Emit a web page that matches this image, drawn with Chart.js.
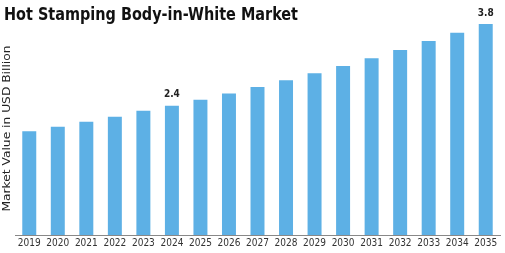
<!DOCTYPE html>
<html>
<head>
<meta charset="utf-8">
<script src="https://cdn.jsdelivr.net/npm/chart.js@4"></script>
<style>
  html, body { margin: 0; padding: 0; background: #fff; }
  #wrap { width: 505px; height: 253px; position: relative; }
</style>
</head>
<body>
<div id="wrap"><canvas id="chart"></canvas></div>
<script>
// values
const years = ["2019","2020","2021","2022","2023","2024","2025","2026","2027","2028","2029","2030","2031","2032","2033","2034","2035"];
const marketValue = [1.88,1.96,2.05,2.14,2.25,2.34,2.45,2.56,2.68,2.80,2.93,3.06,3.20,3.35,3.51,3.66,3.82];
const valueLabels = ["","","","","","2.4","","","","","","","","","","","3.8"];

const chartTitle = "Hot Stamping Body-in-White Market";
const yTitle = "Market Value in USD Billion";

// draws text squeezed/stretched to a given width
function fitText(ctx, text, x, y, width) {
  const w = ctx.measureText(text).width;
  ctx.save();
  ctx.translate(x, y);
  ctx.scale(width / w, 1);
  ctx.fillText(text, 0, 0);
  ctx.restore();
}

// title, y title and value labels
const textPlugin = {
  id: "texts",
  afterDatasetsDraw(chart) {
    const ctx = chart.ctx;
    ctx.save();
    ctx.fillStyle = "#111";
    ctx.font = "bold 18px 'DejaVu Sans Condensed', 'DejaVu Sans'";
    ctx.textAlign = "left";
    ctx.textBaseline = "alphabetic";
    fitText(ctx, chartTitle, 4, 20, 294);

    ctx.font = "11px 'DejaVu Sans'";
    ctx.fillStyle = "#222";
    ctx.translate(7, 128.5);
    ctx.rotate(-Math.PI / 2);
    ctx.textAlign = "center";
    ctx.textBaseline = "middle";
    fitText(ctx, yTitle, 0, 0, 166);
    ctx.restore();

    ctx.save();
    const meta = chart.getDatasetMeta(0);
    ctx.font = "bold 10px 'DejaVu Sans Condensed', 'DejaVu Sans'";
    ctx.fillStyle = "#222";
    ctx.textAlign = "center";
    ctx.textBaseline = "bottom";
    meta.data.forEach((bar, i) => {
      if (valueLabels[i]) ctx.fillText(valueLabels[i], bar.x, bar.y - 6);
    });
    ctx.restore();
  }
};

new Chart(document.getElementById("chart"), {
  type: "bar",
  data: {
    labels: years,
    datasets: [{
      data: marketValue,
      backgroundColor: "#5DB0E5",
      categoryPercentage: 1,
      barPercentage: 0.49
    }]
  },
  options: {
    responsive: true,
    maintainAspectRatio: false,
    animation: false,
    layout: { padding: { left: 15, right: 5, top: 3, bottom: 2 } },
    plugins: { legend: { display: false }, tooltip: { enabled: false } },
    scales: {
      x: {
        grid: { display: false, drawTicks: false, tickLength: 0 },
        border: { display: true, color: "#888" },
        ticks: { color: "#333", font: { size: 10, family: "'DejaVu Sans Condensed', 'DejaVu Sans'" }, padding: 2, maxRotation: 0 }
      },
      y: {
        display: false,
        min: 0,
        max: 4.2
      }
    }
  },
  plugins: [textPlugin]
});
</script>
</body>
</html>
